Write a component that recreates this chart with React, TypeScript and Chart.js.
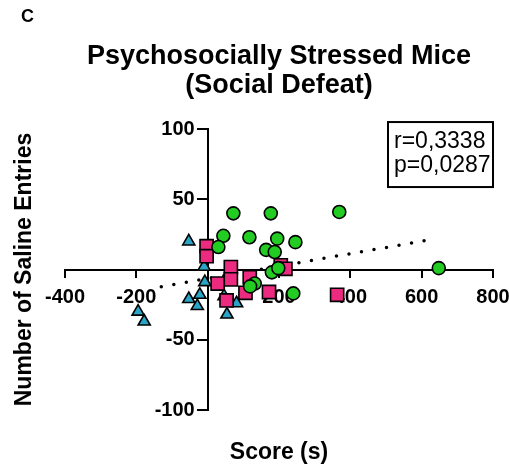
import { useEffect, useRef } from 'react';
import { Chart, registerables } from 'chart.js';

Chart.register(...registerables);

const FONT = '"Liberation Sans", Arial, Helvetica, sans-serif';

const panelLabel = 'C';
const titleLines = ['Psychosocially Stressed Mice', '(Social Defeat)'];
const xTitle = 'Score (s)';
const yTitle = 'Number of Saline Entries';
const statLines = ['r=0,3338', 'p=0,0287'];

const xMin = -400;
const xMax = 800;
const xStep = 200;
const yMin = -100;
const yMax = 100;
const yStep = 50;

// green circles
const circleX = [72, 177, 369, 44, 117, 195, 246, 30, 164, 188, 180, 198, 648, 132, 119, 240];
const circleY = [40, 40, 41, 24, 23, 22, 19.5, 16, 14, 12.5, -2, 1, 1, -10, -12, -17];

// magenta squares
const squareX = [-3, -3, 65, 65, 28, 118, 106, 53, 172, 205, 218, 363];
const squareY = [16.6, 9.5, 1.7, -7, -10, -5.5, -16.6, -22, -16, 3, 0.5, -18];

// cyan triangles
const triangleX = [-195, -178, -53, -10, -8, -53, -22, -29, 46, 81, 54];
const triangleY = [-30, -37, 20, 2, -9, -21, -18, -26, -19, -24, -32];

// dotted trend line (end points)
const trendX = [-130, 620];
const trendY = [-12.2, 21];

const toPoints = (xs: number[], ys: number[]) => xs.map((x, i) => ({ x, y: ys[i] }));

const Y_LABEL_GAP = 13;

const annotations = {
  id: 'annotations',
  beforeDraw(chart: any) {
    const ys = chart.scales.y;
    if (ys && !ys._labelsShifted) {
      const items = ys.getLabelItems(chart.chartArea);
      items.forEach((it: any) => {
        it.options.translation = [it.options.translation[0] - Y_LABEL_GAP, it.options.translation[1]];
      });
      ys._labelsShifted = true;
    }
  },
  afterDraw(chart: any) {
    const { ctx, chartArea } = chart;
    ctx.save();
    ctx.fillStyle = '#000';
    ctx.textAlign = 'left';
    ctx.textBaseline = 'middle';
    ctx.font = `bold 18px ${FONT}`;
    ctx.fillText(panelLabel, 21, 17);

    const bw = 105;
    const bh = 65;
    const bx = chartArea.right - bw;
    const by = chartArea.top - 7;
    ctx.fillStyle = '#fff';
    ctx.fillRect(bx, by, bw, bh);
    ctx.strokeStyle = '#000';
    ctx.lineWidth = 2;
    ctx.strokeRect(bx, by, bw, bh);
    ctx.fillStyle = '#000';
    ctx.font = `23px ${FONT}`;
    statLines.forEach((s, i) => ctx.fillText(s, bx + 6, by + 20 + i * 24));
    ctx.restore();
  },
};

export default function App() {
  const ref = useRef<HTMLCanvasElement | null>(null);

  useEffect(() => {
    if (!ref.current) return;
    const tickFont = { family: FONT, size: 20, weight: 'bold' as const };
    const titleFont = { family: FONT, size: 23, weight: 'bold' as const };
    const hideZero = (v: any) => (Number(v) === 0 ? '' : String(v));
    const noPad = (s: any) => {
      s.paddingLeft = 0;
      s.paddingRight = 0;
      s.paddingTop = 0;
      s.paddingBottom = 0;
    };

    const chart = new Chart(ref.current, {
      type: 'scatter',
      data: {
        datasets: [
          {
            label: 'trend',
            type: 'line',
            data: toPoints(trendX, trendY),
            borderColor: '#000',
            borderWidth: 3.5,
            borderDash: [0, 12.7],
            borderCapStyle: 'round',
            pointRadius: 0,
            fill: false,
            order: 4,
          } as any,
          {
            label: 'triangles',
            data: toPoints(triangleX, triangleY),
            pointStyle: 'triangle',
            pointRadius: 7,
            backgroundColor: '#2aa5c6',
            borderColor: '#000',
            borderWidth: 1.6,
            order: 3,
          },
          {
            label: 'squares',
            data: toPoints(squareX, squareY),
            pointStyle: 'rect',
            pointRadius: 9.3,
            backgroundColor: '#ec2a80',
            borderColor: '#000',
            borderWidth: 1.6,
            order: 2,
          },
          {
            label: 'circles',
            data: toPoints(circleX, circleY),
            pointStyle: 'circle',
            pointRadius: 6.5,
            backgroundColor: '#22cc22',
            borderColor: '#000',
            borderWidth: 1.6,
            order: 1,
          },
        ],
      },
      options: {
        animation: false,
        responsive: false,
        devicePixelRatio: 1,
        layout: { padding: { left: 12, right: 16, top: 0, bottom: 0 } },
        plugins: {
          legend: { display: false },
          tooltip: { enabled: false },
          title: {
            display: true,
            text: titleLines,
            fullSize: false,
            color: '#000',
            font: { family: FONT, size: 27, weight: 'bold', lineHeight: 1.075 },
            padding: { top: 42, bottom: 29 },
          },
        },
        scales: {
          x: {
            type: 'linear',
            position: { y: 0 } as any,
            min: xMin,
            max: xMax,
            afterFit: noPad,
            ticks: {
              stepSize: xStep,
              autoSkip: false,
              maxRotation: 0,
              color: '#000',
              font: tickFont,
              padding: 9,
              callback: hideZero,
            },
            grid: { display: true, drawOnChartArea: false, drawTicks: true, tickLength: 7, color: '#000', lineWidth: 2 },
            border: { display: true, color: '#000', width: 2 },
          },
          y: {
            type: 'linear',
            position: { x: 0 } as any,
            min: yMin,
            max: yMax,
            afterFit: noPad,
            ticks: {
              stepSize: yStep,
              autoSkip: false,
              color: '#000',
              font: tickFont,
              padding: 3,
              callback: hideZero,
            },
            grid: { display: true, drawOnChartArea: false, drawTicks: true, tickLength: 10, color: '#000', lineWidth: 2 },
            border: { display: true, color: '#000', width: 2 },
          },
          xt: {
            type: 'linear',
            position: 'bottom',
            min: xMin,
            max: xMax,
            ticks: { display: false },
            grid: { display: false },
            border: { display: false },
            title: { display: true, text: xTitle, color: '#000', font: titleFont, padding: { top: 0, bottom: 1 } },
            afterFit: (s: any) => {
              s.height = 57;
            },
          },
          yt: {
            type: 'linear',
            position: 'left',
            min: yMin,
            max: yMax,
            ticks: { display: false },
            grid: { display: false },
            border: { display: false },
            title: { display: true, text: yTitle, color: '#000', font: titleFont, padding: { top: -1, bottom: 0 } },
            afterFit: (s: any) => {
              s.width = 53;
            },
          },
        },
      },
      plugins: [annotations],
    });
    return () => chart.destroy();
  }, []);

  return (
    <div style={{ position: 'fixed', left: 0, top: 0, width: 509, height: 467, background: '#fff' }}>
      <canvas ref={ref} width={509} height={467} />
    </div>
  );
}
